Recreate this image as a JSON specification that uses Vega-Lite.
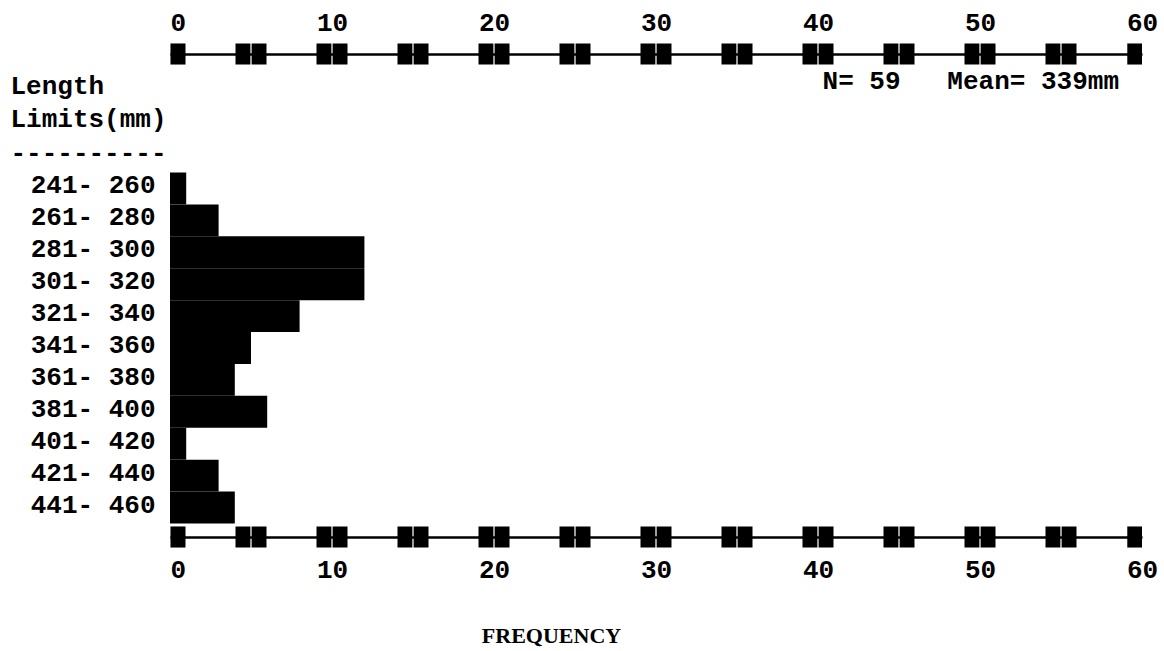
{
  "$schema": "https://vega.github.io/schema/vega-lite/v6.json",
  "width": 972,
  "height": 483,
  "autosize": {"type": "none"},
  "padding": {"left": 170, "top": 54, "right": 22, "bottom": 114},
  "background": "white",
  "config": {"view": {"stroke": null}, "font": "Liberation Mono"},
  "resolve": {"scale": {"y": "independent"}, "axis": {"x": "independent", "y": "independent"}},
  "layer": [
    {
      "data": {"values": [
        {"limits": "241- 260", "frequency": 1},
        {"limits": "261- 280", "frequency": 3},
        {"limits": "281- 300", "frequency": 12},
        {"limits": "301- 320", "frequency": 12},
        {"limits": "321- 340", "frequency": 8},
        {"limits": "341- 360", "frequency": 5},
        {"limits": "361- 380", "frequency": 4},
        {"limits": "381- 400", "frequency": 6},
        {"limits": "401- 420", "frequency": 1},
        {"limits": "421- 440", "frequency": 3},
        {"limits": "441- 460", "frequency": 4}
      ]},
      "mark": {"type": "bar", "color": "black"},
      "encoding": {
        "y": {
          "field": "limits", "type": "ordinal", "sort": null,
          "scale": {"paddingInner": 0, "paddingOuter": 0, "range": [118.5, 469.5]},
          "axis": {
            "orient": "left", "domain": false, "ticks": false, "tickSize": 0,
            "labelFont": "Liberation Mono", "labelFontSize": 26, "labelFontWeight": "bold",
            "labelColor": "black", "labelPadding": 15, "labelOffset": -3, "labelBaseline": "middle",
            "title": ["Length", "Limits(mm)", "----------"],
            "titleFont": "Liberation Mono", "titleFontSize": 26, "titleFontWeight": "bold",
            "titleColor": "black", "titleAngle": 0, "titleAlign": "left", "titleBaseline": "alphabetic",
            "titleX": -160, "titleY": 39, "titleLineHeight": 33.5
          }
        },
        "x": {
          "field": "frequency", "type": "quantitative",
          "scale": {"domain": [0, 60], "nice": false, "zero": true},
          "axis": {
            "orient": "bottom", "values": [0, 10, 20, 30, 40, 50, 60], "grid": false,
            "domain": true, "domainColor": "black", "domainWidth": 2.5,
            "ticks": false, "tickSize": 0,
            "labelFont": "Liberation Mono", "labelFontSize": 26, "labelFontWeight": "bold",
            "labelColor": "black", "labelBaseline": "alphabetic", "labelPadding": 40,
            "labelFlush": false,
            "labelAlign": {"expr": "datum.value === 0 ? 'left' : 'center'"},
            "title": "FREQUENCY",
            "titleFont": "Liberation Serif", "titleFontSize": 22, "titleFontWeight": "bold",
            "titleColor": "black", "titleAlign": "center", "titleBaseline": "alphabetic",
            "titleX": 381, "titleY": 105
          }
        }
      }
    },
    {
      "layer": [
        {
          "data": {"values": [
            {"edge": "top", "tick": 0, "kind": "left"},
            {"edge": "top", "tick": 5, "kind": "double"},
            {"edge": "top", "tick": 10, "kind": "double"},
            {"edge": "top", "tick": 15, "kind": "double"},
            {"edge": "top", "tick": 20, "kind": "double"},
            {"edge": "top", "tick": 25, "kind": "double"},
            {"edge": "top", "tick": 30, "kind": "double"},
            {"edge": "top", "tick": 35, "kind": "double"},
            {"edge": "top", "tick": 40, "kind": "double"},
            {"edge": "top", "tick": 45, "kind": "double"},
            {"edge": "top", "tick": 50, "kind": "double"},
            {"edge": "top", "tick": 55, "kind": "double"},
            {"edge": "top", "tick": 60, "kind": "right"},
            {"edge": "bottom", "tick": 0, "kind": "left"},
            {"edge": "bottom", "tick": 5, "kind": "double"},
            {"edge": "bottom", "tick": 10, "kind": "double"},
            {"edge": "bottom", "tick": 15, "kind": "double"},
            {"edge": "bottom", "tick": 20, "kind": "double"},
            {"edge": "bottom", "tick": 25, "kind": "double"},
            {"edge": "bottom", "tick": 30, "kind": "double"},
            {"edge": "bottom", "tick": 35, "kind": "double"},
            {"edge": "bottom", "tick": 40, "kind": "double"},
            {"edge": "bottom", "tick": 45, "kind": "double"},
            {"edge": "bottom", "tick": 50, "kind": "double"},
            {"edge": "bottom", "tick": 55, "kind": "double"},
            {"edge": "bottom", "tick": 60, "kind": "right"}
          ]},
          "mark": {"type": "point", "filled": true, "opacity": 1, "color": "black", "size": 961, "strokeWidth": 0},
          "encoding": {
            "x": {
              "field": "tick", "type": "quantitative",
              "axis": {
                "orient": "top", "values": [0, 10, 20, 30, 40, 50, 60], "grid": false,
                "domain": true, "domainColor": "black", "domainWidth": 2.5,
                "ticks": false, "tickSize": 0,
                "labelFont": "Liberation Mono", "labelFontSize": 26, "labelFontWeight": "bold",
                "labelColor": "black", "labelBaseline": "alphabetic", "labelPadding": 24,
                "labelFlush": false,
                "labelAlign": {"expr": "datum.value === 0 ? 'left' : 'center'"},
                "title": null
              }
            },
            "y": {
              "field": "edge", "type": "nominal",
              "scale": {"type": "point", "domain": ["top", "bottom"], "padding": 0},
              "axis": null
            },
            "shape": {
              "field": "kind", "type": "nominal",
              "scale": {
                "domain": ["left", "double", "right"],
                "range": [
                  "M0.03,-0.68H1V0.68H0.03Z",
                  "M-1,-0.68H-0.04V0.68H-1Z M0.04,-0.68H1V0.68H0.04Z",
                  "M-0.95,-0.68H0V0.68H-0.95Z"
                ]
              },
              "legend": null
            }
          }
        },
        {
          "data": {"values": [{"label": "N= 59\u00a0\u00a0\u00a0Mean= 339mm"}]},
          "mark": {
            "type": "text", "align": "right", "baseline": "alphabetic", "dx": -23, "dy": 35,
            "font": "Liberation Mono", "fontSize": 26, "fontWeight": "bold", "color": "black"
          },
          "encoding": {
            "x": {
              "datum": 60, "type": "quantitative",
              "axis": {
                "orient": "top", "values": [0, 10, 20, 30, 40, 50, 60], "grid": false,
                "domain": true, "domainColor": "black", "domainWidth": 2.5,
                "ticks": false, "tickSize": 0,
                "labelFont": "Liberation Mono", "labelFontSize": 26, "labelFontWeight": "bold",
                "labelColor": "black", "labelBaseline": "alphabetic", "labelPadding": 24,
                "labelFlush": false,
                "labelAlign": {"expr": "datum.value === 0 ? 'left' : 'center'"},
                "title": null
              }
            },
            "y": {"datum": "top", "type": "nominal"},
            "text": {"field": "label"}
          }
        }
      ]
    }
  ]
}
